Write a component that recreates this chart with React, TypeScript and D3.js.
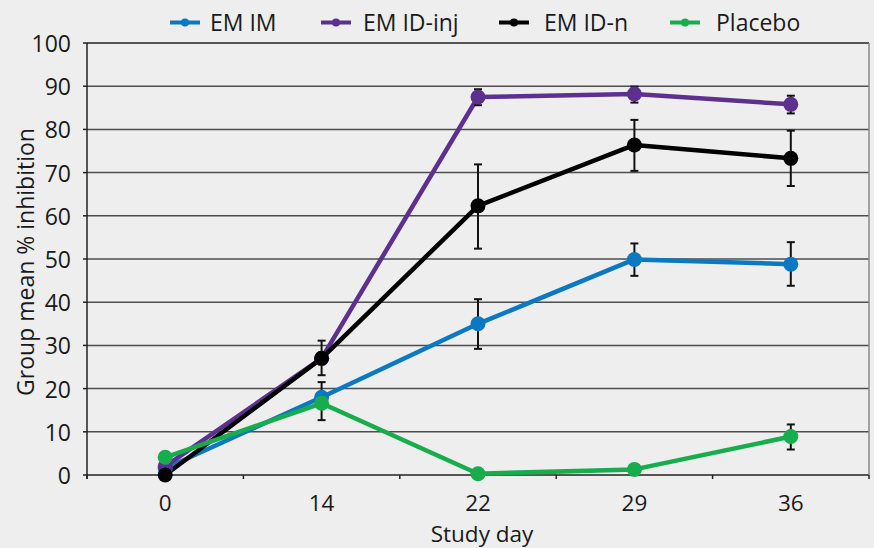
import React from "react";
import * as d3 from "d3";

const days = ["0", "14", "22", "29", "36"];
const yTicks = [0, 10, 20, 30, 40, 50, 60, 70, 80, 90, 100];

const seriesNames = ["EM IM", "EM ID-inj", "EM ID-n", "Placebo"];
const seriesColors = ["#0a78c2", "#5d2f8f", "#000000", "#18ad4c"];

const emIM = [1.5, 18, 35, 49.9, 48.8];
const emIMLow = [null, 12.7, 29.2, 46.1, 43.8];
const emIMHigh = [null, 21.5, 40.7, 53.6, 53.9];

const emIDinj = [2, 27, 87.5, 88.2, 85.8];
const emIDinjLow = [null, null, 85.6, 86.2, 83.7];
const emIDinjHigh = [null, null, 89.3, 89.9, 87.8];

const emIDn = [0, 27, 62.3, 76.4, 73.3];
const emIDnLow = [null, 23.1, 52.4, 70.4, 66.9];
const emIDnHigh = [null, 31.1, 71.9, 82.2, 79.7];

const placebo = [4.1, 16.6, 0.3, 1.3, 8.9];
const placeboLow = [null, null, null, null, 5.9];
const placeboHigh = [null, null, null, null, 11.7];

const seriesValues = [emIM, emIDinj, emIDn, placebo];
const seriesLow = [emIMLow, emIDinjLow, emIDnLow, placeboLow];
const seriesHigh = [emIMHigh, emIDinjHigh, emIDnHigh, placeboHigh];

const W = 874;
const H = 548;
const FONT = "'Open Sans', 'Noto Sans', sans-serif";
const TEXT = "#1a1a1a";

export default function App() {
  const left = 87;
  const right = 869;
  const top = 43;
  const bottom = 475;

  const x = d3.scaleBand<string>().domain(days).range([left, right]).paddingInner(0).paddingOuter(0);
  const y = d3.scaleLinear().domain([0, 100]).range([bottom, top]);
  const cx = (d: string) => (x(d) as number) + x.bandwidth() / 2;

  const line = d3
    .line<number>()
    .x((_, i) => cx(days[i]))
    .y((v) => y(v));

  const boundaries = d3.range(days.length + 1).map((i) => left + i * x.bandwidth());

  const legendItems = [
    { lx: 170, tx: 210 },
    { lx: 321, tx: 363 },
    { lx: 499, tx: 544 },
    { lx: 670, tx: 716 },
  ];

  return (
    <div style={{ position: "fixed", left: 0, top: 0, width: W, height: H }}>
      <svg width={W} height={H} style={{ display: "block" }}>
        <rect x={0} y={0} width={W} height={H} fill="#eeeeee" />

        {/* gridlines */}
        {yTicks.map((t) => (
          <line
            key={"g" + t}
            x1={left}
            x2={right}
            y1={y(t)}
            y2={y(t)}
            stroke={t === 0 || t === 100 ? "#222" : "#4d4d4d"}
            strokeWidth={1.5}
          />
        ))}
        {/* right border */}
        <line x1={right} x2={right} y1={top} y2={bottom} stroke="#888" strokeWidth={1.5} />
        {/* y axis */}
        <line x1={left} x2={left} y1={top} y2={bottom + 4} stroke="#222" strokeWidth={1.5} />
        {yTicks.map((t) => (
          <g key={"yt" + t}>
            <line x1={left - 4} x2={left} y1={y(t)} y2={y(t)} stroke="#222" strokeWidth={1.5} />
            <text
              x={71}
              y={y(t)}
              textAnchor="end"
              dominantBaseline="central"
              fontFamily={FONT}
              fontSize={23}
              fill={TEXT}
            >
              {t}
            </text>
          </g>
        ))}
        {/* x ticks */}
        {boundaries.map((b, i) => (
          <line key={"xt" + i} x1={b} x2={b} y1={bottom} y2={bottom + 4} stroke="#222" strokeWidth={1.5} />
        ))}
        {days.map((d) => (
          <text
            key={"xl" + d}
            x={cx(d)}
            y={511}
            textAnchor="middle"
            fontFamily={FONT}
            fontSize={22.5}
            fill={TEXT}
          >
            {d}
          </text>
        ))}
        <text x={482} y={542} textAnchor="middle" fontFamily={FONT} fontSize={22.5} fill={TEXT}>
          Study day
        </text>
        <text
          transform={`translate(34, 262) rotate(-90)`}
          textAnchor="middle"
          fontFamily={FONT}
          fontSize={23}
          fill={TEXT}
        >
          Group mean % inhibition
        </text>

        {/* lines */}
        {seriesValues.map((vals, s) => (
          <path
            key={"l" + s}
            d={line(vals) as string}
            fill="none"
            stroke={seriesColors[s]}
            strokeWidth={4.5}
            strokeLinejoin="round"
          />
        ))}
        {/* error bars */}
        {seriesValues.map((vals, s) =>
          vals.map((_, i) => {
            const lo = seriesLow[s][i];
            const hi = seriesHigh[s][i];
            if (lo == null || hi == null) return null;
            const px = cx(days[i]);
            return (
              <g key={"e" + s + "-" + i} stroke="#111" strokeWidth={2}>
                <line x1={px} x2={px} y1={y(lo)} y2={y(hi)} />
                <line x1={px - 4} x2={px + 4} y1={y(lo)} y2={y(lo)} />
                <line x1={px - 4} x2={px + 4} y1={y(hi)} y2={y(hi)} />
              </g>
            );
          })
        )}
        {/* markers */}
        {seriesValues.map((vals, s) =>
          vals.map((v, i) => (
            <circle key={"m" + s + "-" + i} cx={cx(days[i])} cy={y(v)} r={7.5} fill={seriesColors[s]} />
          ))
        )}

        {/* legend */}
        {seriesNames.map((n, s) => (
          <g key={"lg" + s}>
            <line
              x1={legendItems[s].lx}
              x2={legendItems[s].lx + 30}
              y1={22.5}
              y2={22.5}
              stroke={seriesColors[s]}
              strokeWidth={4}
            />
            <circle cx={legendItems[s].lx + 15} cy={22.5} r={4} fill={seriesColors[s]} />
            <text x={legendItems[s].tx} y={30.5} fontFamily={FONT} fontSize={23} fill={TEXT}>
              {n}
            </text>
          </g>
        ))}
      </svg>
    </div>
  );
}
